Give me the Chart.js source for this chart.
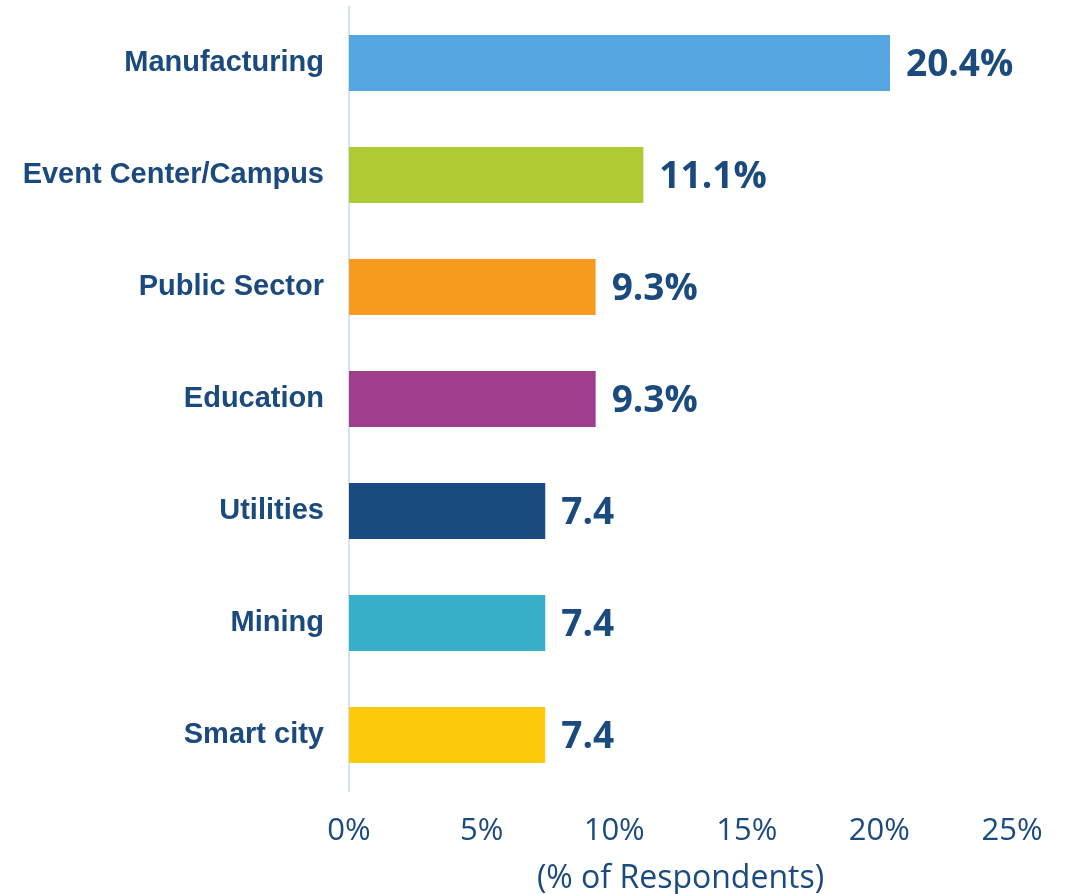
<!DOCTYPE html>
<html>
<head>
<meta charset="utf-8">
<script src="https://cdn.jsdelivr.net/npm/chart.js@4.4.0/dist/chart.umd.min.js"></script>
<style>
  html, body { margin: 0; padding: 0; background: #ffffff; }
  #wrap { width: 1073px; height: 894px; }
</style>
</head>
<body>
<div id="wrap"><canvas id="myChart"></canvas></div>
<script>
// chart data
const categories = ["Manufacturing", "Event Center/Campus", "Public Sector", "Education", "Utilities", "Mining", "Smart city"];
const values = [20.4, 11.1, 9.3, 9.3, 7.4, 7.4, 7.4];
const valueLabels = ["20.4%", "11.1%", "9.3%", "9.3%", "7.4", "7.4", "7.4"];
const barColors = ["#55a5e0", "#aecb33", "#f89a1e", "#9e3e8c", "#1a4b80", "#37afc8", "#fdcb0a"];
const xTicks = [0, 5, 10, 15, 20, 25];

const textColor = "#1b4a7e";

//! draw the value next to each bar
const barValues = {
	id: "barValues",
	afterDatasetsDraw(chart) {
		const ctx = chart.ctx;
		const meta = chart.getDatasetMeta(0);
		ctx.save();
		ctx.fillStyle = textColor;
		ctx.font = "bold 37px 'Open Sans'";
		ctx.textAlign = "left";
		ctx.textBaseline = "middle";
		meta.data.forEach((bar, i) => {
			ctx.fillText(valueLabels[i], bar.x + 16, bar.y + 2);
		});
		ctx.restore();
	},
};

const config = {
	type: "bar",
	data: {
		labels: categories,
		datasets: [
			{
				data: values,
				backgroundColor: barColors,
				barPercentage: 0.5,
				categoryPercentage: 1,
			},
		],
	},
	options: {
		indexAxis: "y",
		responsive: true,
		maintainAspectRatio: false,
		animation: false,
		layout: {
			padding: { top: 7, right: 61, left: 0, bottom: 0 },
		},
		plugins: {
			legend: { display: false },
			tooltip: { enabled: false },
		},
		scales: {
			x: {
				min: 0,
				max: 25,
				afterBuildTicks: (scale) => {
					scale.ticks = xTicks.map((v) => ({ value: v }));
				},
				afterFit: (scale) => {
					scale.height = 103;
				},
				grid: { display: false },
				border: { display: false },
				ticks: {
					color: textColor,
					padding: 14,
					maxRotation: 0,
					font: { family: "'Open Sans'", size: 31 },
					callback: (v) => v + "%",
				},
				title: {
					display: true,
					text: "(% of Respondents)",
					color: textColor,
					font: { family: "'Open Sans'", size: 32 },
					padding: { top: 4, bottom: -4 },
				},
			},
			y: {
				afterFit: (scale) => {
					scale.width = 349;
					scale.paddingTop = 0;
					scale.paddingBottom = 0;
				},
				grid: { display: false },
				border: { display: true, color: "#d3e2f2", width: 2 },
				ticks: {
					color: textColor,
					padding: 17,
					font: { family: "'Liberation Sans', Arial", size: 29, weight: "bold" },
				},
			},
		},
	},
	plugins: [barValues],
};

const myChart = new Chart(document.getElementById("myChart"), config);
</script>
</body>
</html>
